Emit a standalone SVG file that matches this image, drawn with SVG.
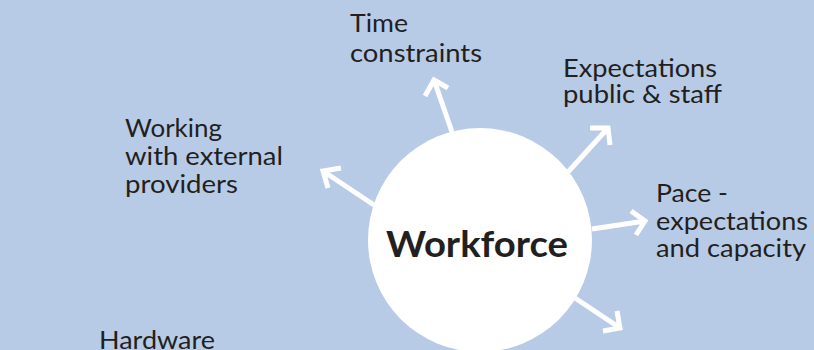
<svg xmlns="http://www.w3.org/2000/svg" width="814" height="350" viewBox="0 0 814 350">
<style>
.lbl{font-family:Lato,"Noto Sans","Liberation Sans",sans-serif;font-size:25px;fill:#231f20}
.main{font-family:Lato,"Noto Sans","Liberation Sans",sans-serif;font-size:37px;font-weight:bold;fill:#231f20}
.arr{fill:none;stroke:#ffffff;stroke-width:5;stroke-linecap:butt;stroke-linejoin:miter}
</style>
<rect x="0" y="0" width="814" height="350" fill="#b8cbe6"/>
<g id="connectors">
<path class="arr" d="M452,132 L434,80 M425,96 L434,80 L448,88"/>
<path class="arr" d="M374,205 L323,171 M341,168 L323,171 L328,188"/>
<path class="arr" d="M568,172 L608,128 M590,128 L608,128 L610,145"/>
<path class="arr" d="M592,229 L645,221 M631,211 L645,221 L636,235"/>
<path class="arr" d="M575,298 L620,328 M617,311 L620,328 L603,331"/>
</g>
<g id="workforce">
<circle cx="480" cy="240" r="112" fill="#ffffff"/>
<text class="main" x="386" y="257" textLength="182" lengthAdjust="spacingAndGlyphs">Workforce</text>
</g>
<g id="time">
<text class="lbl" x="350" y="32" textLength="58" lengthAdjust="spacingAndGlyphs">Time</text>
<text class="lbl" x="350" y="62" textLength="132" lengthAdjust="spacingAndGlyphs">constraints</text>
</g>
<g id="expectations">
<text class="lbl" x="563" y="77" textLength="154" lengthAdjust="spacingAndGlyphs">Expectations</text>
<text class="lbl" x="563" y="103" textLength="159" lengthAdjust="spacingAndGlyphs">public &amp; staff</text>
</g>
<g id="working">
<text class="lbl" x="125" y="137" textLength="97" lengthAdjust="spacingAndGlyphs">Working</text>
<text class="lbl" x="125" y="165" textLength="158" lengthAdjust="spacingAndGlyphs">with external</text>
<text class="lbl" x="125" y="193" textLength="113" lengthAdjust="spacingAndGlyphs">providers</text>
</g>
<g id="pace">
<text class="lbl" x="656" y="202" textLength="72" lengthAdjust="spacingAndGlyphs">Pace -</text>
<text class="lbl" x="656" y="230" textLength="152" lengthAdjust="spacingAndGlyphs">expectations</text>
<text class="lbl" x="656" y="257" textLength="150" lengthAdjust="spacingAndGlyphs">and capacity</text>
</g>
<g id="hardware">
<text class="lbl" x="99" y="349" textLength="116" lengthAdjust="spacingAndGlyphs">Hardware</text>
</g>
</svg>
